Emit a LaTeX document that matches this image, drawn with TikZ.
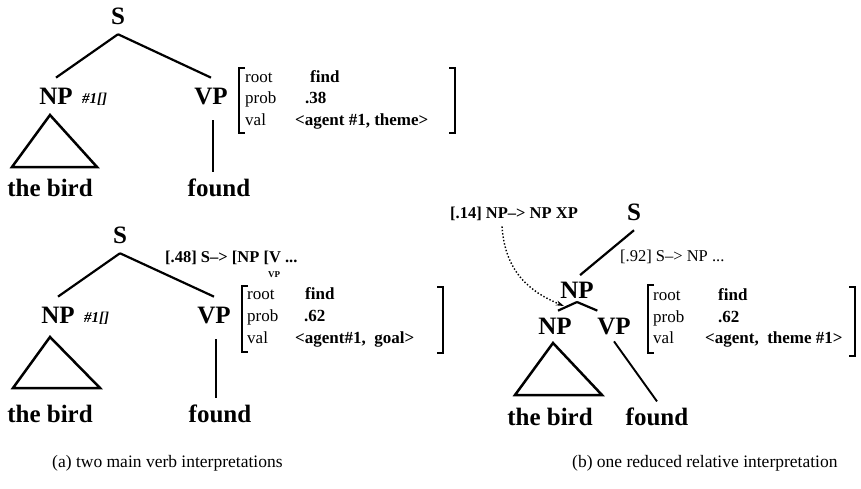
\documentclass[tikz,border=0pt]{standalone}
\usepackage{fontspec}
\setmainfont{Liberation Serif}
\usetikzlibrary{arrows.meta}
\begin{document}
\begin{tikzpicture}[x=1pt,y=-1pt,
  catlbl/.style={font=\fontsize{25}{28}\selectfont\bfseries, inner sep=0pt, outer xsep=0pt, outer ysep=10pt, anchor=base},
  wordlbl/.style={font=\fontsize{25}{28}\selectfont\bfseries, inner sep=0pt, outer ysep=6pt, anchor=base},
  idx/.style={font=\fontsize{15}{17}\selectfont\itshape, inner sep=0pt, anchor=base west},
  fname/.style={font=\fontsize{17}{19}\selectfont, inner sep=0pt, anchor=base west},
  fval/.style={font=\fontsize{17}{19}\selectfont\bfseries, inner sep=0pt, anchor=base west},
  rulelbl/.style={font=\fontsize{16.5}{19}\selectfont\bfseries, inner sep=0pt, anchor=base west},
  rulereg/.style={font=\fontsize{16.5}{19}\selectfont, inner sep=0pt, anchor=base west},
  sublbl/.style={font=\fontsize{9}{10}\selectfont\bfseries, inner sep=0pt},
  captxt/.style={font=\fontsize{17.5}{20}\selectfont, inner sep=0pt, anchor=base west},
  branch/.style={line width=2.2pt},
  tri/.style={line width=2.5pt, line join=miter},
  brk/.style={line width=1.7pt},
]
\useasboundingbox (0,0) rectangle (861,488);

% ---------- (a) upper tree ----------
\node[catlbl] (S1) at (118,24) {S};
\node[catlbl] (NP1) at (56,104) {NP};
\node[idx] (i1) at (82,103) {\textbf{\#1[]}};
\node[catlbl] (VP1) at (211,104) {VP};
\node[wordlbl] (bird1) at (50,196) {the bird};
\node[wordlbl] (found1) at (219,196) {found};
\draw[branch] (S1.south) -- (NP1.north);
\draw[branch] (S1.south) -- (VP1.north);
\draw[tri] (50,115) -- (12,167) -- (97,167) -- cycle;
\draw[branch] ([xshift=2pt,yshift=-6pt]VP1.south) -- ([xshift=2pt]VP1.south |- found1.north);

\draw[brk] (245,68) -- (239,68) -- (239,133) -- (245,133);
\draw[brk] (449,68) -- (455,68) -- (455,133) -- (449,133);
\node[fname] (r1) at (245,82) {root};
\node[fname] (p1) at (245,103) {prob};
\node[fname] (v1) at (245,125) {val};
\node[fval] (rv1) at (310,82) {find};
\node[fval] (pv1) at (305,103) {.38};
\node[fval] (vv1) at (295,125) {<agent \#1, theme>};

% ---------- (a) lower tree ----------
\node[catlbl] (S2) at (120,243) {S};
\node[catlbl] (NP2) at (58,323) {NP};
\node[idx] (i2) at (84,322) {\textbf{\#1[]}};
\node[catlbl] (VP2) at (214,323) {VP};
\node[wordlbl] (bird2) at (50,422) {the bird};
\node[wordlbl] (found2) at (220,422) {found};
\draw[branch] (S2.south) -- (NP2.north);
\draw[branch] (S2.south) -- (VP2.north);
\draw[tri] (50,337) -- (13,388) -- (100,388) -- cycle;
\draw[branch] ([xshift=2pt,yshift=-6pt]VP2.south) -- ([xshift=2pt]VP2.south |- found2.north);
\node[rulelbl] (r48) at (165,262) {[.48] S--> [NP [V ...};
\node[sublbl] (vpsub) at (274,275) {VP};

\draw[brk] (248,286) -- (242,286) -- (242,352) -- (248,352);
\draw[brk] (437,287) -- (443,287) -- (443,353) -- (437,353);
\node[fname] (r2) at (247,299) {root};
\node[fname] (p2) at (247,321) {prob};
\node[fname] (v2) at (247,343) {val};
\node[fval] (rv2) at (305,299) {find};
\node[fval] (pv2) at (304,321) {.62};
\node[fval] (vv2) at (295,343) {<agent\#1,\ \ goal>};

% ---------- (b) tree ----------
\node[rulelbl] (r14) at (450,218) {[.14] NP--> NP XP};
\node[catlbl] (S3) at (634,220) {S};
\node[rulereg] (r92) at (620,261) {[.92] S--> NP ...};
\node[catlbl, outer ysep=4pt] (NPu) at (577,298) {NP};
\node[catlbl, outer ysep=7pt] (NPl) at (555,334) {NP};
\node[catlbl, outer ysep=7pt] (VP3) at (614,334) {VP};
\node[wordlbl] (bird3) at (550,425) {the bird};
\node[wordlbl] (found3) at (657,425) {found};
\draw[branch, shorten >=4pt] (S3.south) -- (NPu.north);
\draw[branch] (NPu.south) -- ([xshift=3pt]NPl.north);
\draw[branch] (NPu.south) -- (VP3.north west);
\draw[tri] (553,343) -- (515,395) -- (602,395) -- cycle;
\draw[line width=1.9pt] (VP3.south) -- (found3.north);
\coordinate (tipb) at (564,306);
\draw[dotted, line width=1.4pt, -{Stealth[length=8pt,width=5pt]}]
  ([xshift=52pt,yshift=-6pt]r14.south west) .. controls (505,272) and (530,292) .. (tipb);

\draw[brk] (654,285) -- (648,285) -- (648,353) -- (654,353);
\draw[brk] (849,287) -- (855,287) -- (855,356) -- (849,356);
\node[fname] (r3) at (653,300) {root};
\node[fname] (p3) at (653,322) {prob};
\node[fname] (v3) at (653,343) {val};
\node[fval] (rv3) at (718,300) {find};
\node[fval] (pv3) at (718,322) {.62};
\node[fval] (vv3) at (705,343) {<agent,\ \ theme \#1>};

% ---------- captions ----------
\node[captxt] (capa) at (52,467) {(a) two main verb interpretations};
\node[captxt] (capb) at (572,467) {(b) one reduced relative interpretation};
\end{tikzpicture}
\end{document}
